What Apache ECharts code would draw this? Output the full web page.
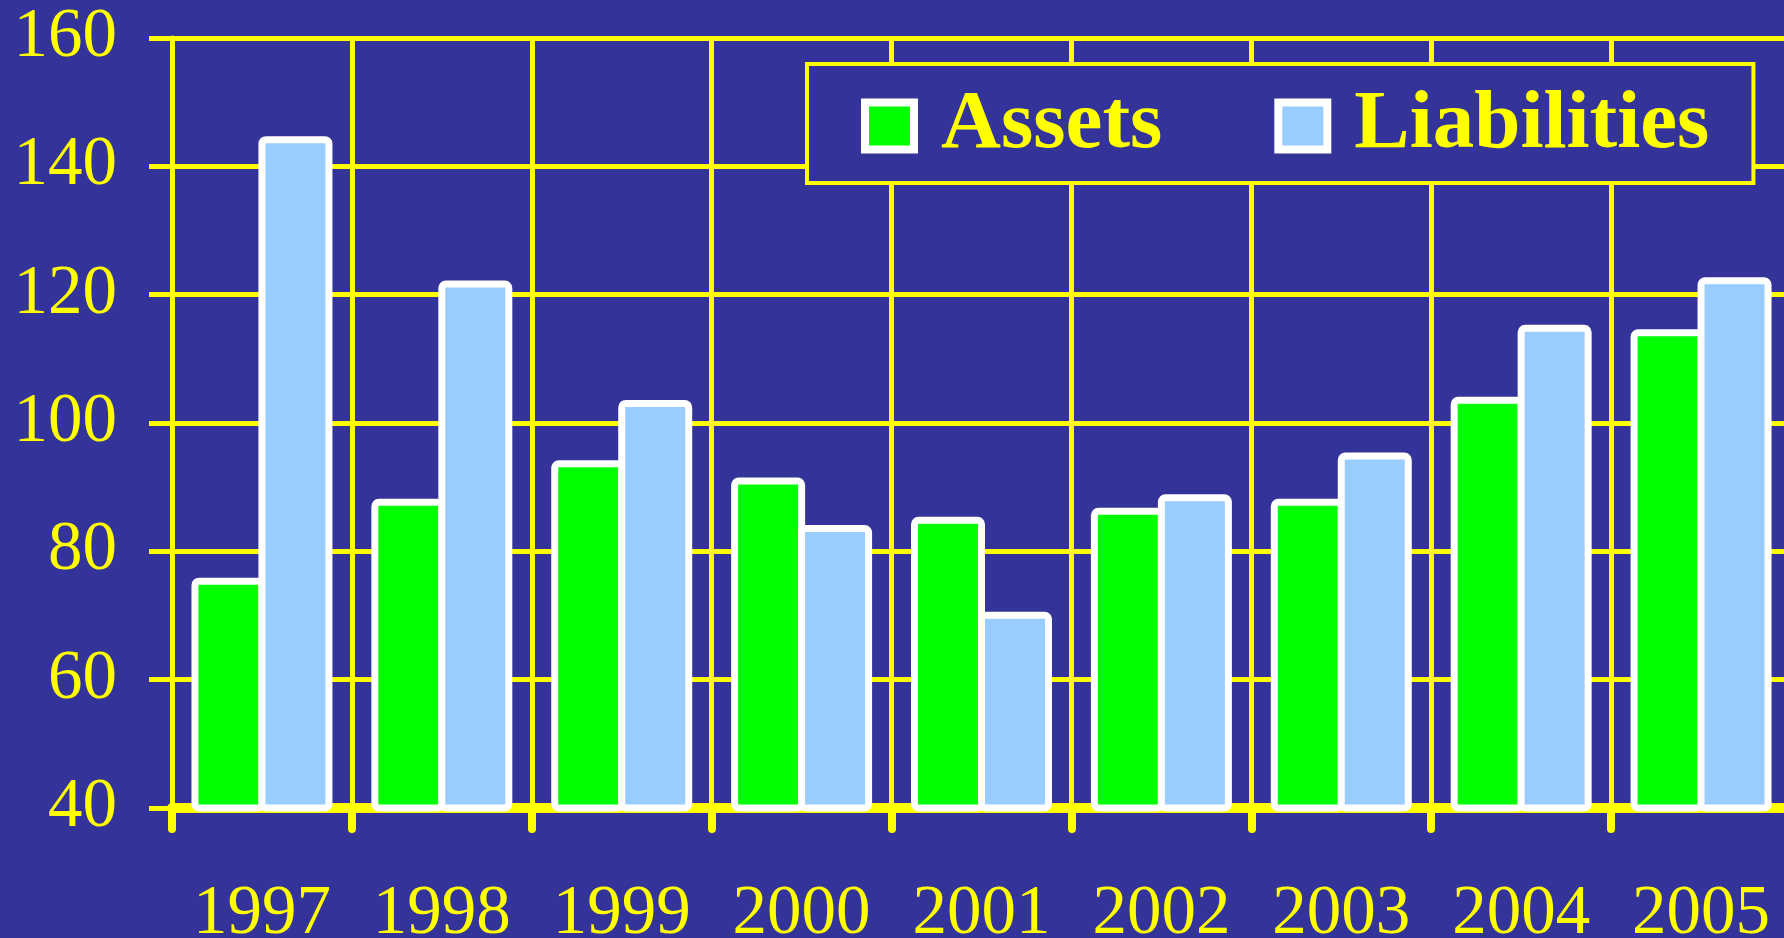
<!DOCTYPE html>
<html>
<head>
<meta charset="utf-8">
<style>
  html, body { margin: 0; padding: 0; background: #333399; }
  #main { width: 1784px; height: 938px; }
</style>
<script src="https://cdn.jsdelivr.net/npm/echarts@6/dist/echarts.min.js"></script>
</head>
<body>
<div id="main"></div>
<script>
var years = ['1997', '1998', '1999', '2000', '2001', '2002', '2003', '2004', '2005'];
var assets = [75.9, 88.2, 94.2, 91.5, 85.4, 86.8, 88.2, 104.1, 114.6];
var liabilities = [144.7, 122.2, 103.6, 84.1, 70.6, 88.9, 95.4, 115.3, 122.7];
var yTicks = [40, 60, 80, 100, 120, 140, 160];

var chart = echarts.init(document.getElementById('main'));
var yellow = '#ffff00';
var serif = "'Times New Roman', 'Liberation Serif', serif";

var option = {
    backgroundColor: '#333399',
    animation: false,
    grid: {
        left: 172,
        top: 38,
        width: 1619,
        height: 770,
        outerBoundsMode: 'none'
    },
    legend: {
        left: 807,
        top: 64,
        padding: [15, 44, 10, 54],
        itemGap: 112,
        itemWidth: 49,
        itemHeight: 47,
        icon: 'rect',
        backgroundColor: '#333399',
        borderColor: yellow,
        borderWidth: 4,
        borderRadius: 0,
        itemStyle: { borderColor: '#ffffff', borderWidth: 8 },
        textStyle: {
            color: yellow,
            fontFamily: serif,
            fontWeight: 'bold',
            fontSize: 83,
            lineHeight: 60,
            padding: [34, 0, 0, 22]
        },
        data: ['Assets', 'Liabilities']
    },
    xAxis: {
        type: 'category',
        data: years,
        boundaryGap: true,
        axisLine: { show: true, lineStyle: { color: yellow, width: 10 } },
        axisTick: {
            show: true,
            interval: 0,
            length: 21,
            lineStyle: { color: yellow, width: 8, cap: 'round' }
        },
        axisLabel: {
            interval: 0,
            color: yellow,
            fontFamily: serif,
            fontSize: 69,
            margin: 72
        },
        splitLine: {
            show: true,
            interval: 0,
            lineStyle: { color: yellow, width: 5 }
        }
    },
    yAxis: {
        type: 'value',
        min: yTicks[0],
        max: yTicks[yTicks.length - 1],
        interval: 20,
        axisLine: { show: true, lineStyle: { color: yellow, width: 5 } },
        axisTick: { show: true, length: 23, lineStyle: { color: yellow, width: 5 } },
        axisLabel: {
            color: yellow,
            fontFamily: serif,
            fontSize: 69,
            margin: 55
        },
        splitLine: { show: true, lineStyle: { color: yellow, width: 5 } }
    },
    series: [
        {
            name: 'Assets',
            type: 'bar',
            data: assets,
            barWidth: 74,
            barGap: '-9.5%',
            itemStyle: { color: '#00ff00', borderColor: '#ffffff', borderWidth: 7, borderRadius: 4 }
        },
        {
            name: 'Liabilities',
            type: 'bar',
            data: liabilities,
            barWidth: 74,
            barGap: '-9.5%',
            itemStyle: { color: '#99ccff', borderColor: '#ffffff', borderWidth: 7, borderRadius: 4 }
        }
    ]
};

chart.setOption(option);
</script>
</body>
</html>
